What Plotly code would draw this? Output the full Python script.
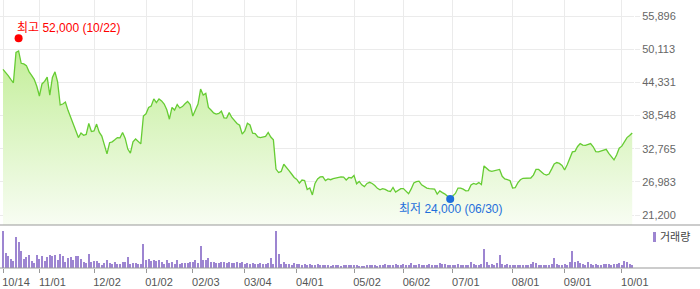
import pandas as pd
import plotly.graph_objects as go

# ---------------- data ----------------
HOLIDAYS = ['2024-12-25', '2024-12-31', '2025-01-01', '2025-01-27', '2025-01-28',
            '2025-01-29', '2025-01-30', '2025-03-03', '2025-05-01', '2025-05-05',
            '2025-05-06', '2025-06-03', '2025-06-06', '2025-08-15', '2025-10-03',
            '2025-10-06', '2025-10-07', '2025-10-08', '2025-10-09']
dates = [d.strftime('%Y-%m-%d') for d in pd.bdate_range('2024-10-14', '2025-10-14')
         if d.strftime('%Y-%m-%d') not in HOLIDAYS]

close = [
    46600, 46100, 45500, 44850, 44250, 49550, 49800, 47650, 47550, 47250,
    46200, 45550, 44850, 43650, 41950, 44050, 44500, 45250, 42100, 45200,
    46150, 44400, 40400, 40550, 40900, 39450, 38200, 37050, 35800, 34700,
    35500, 35100, 35250, 37150, 35750, 35850, 37050, 35650, 34950, 33600,
    31850, 33800, 33950, 34300, 34700, 34650, 35600, 34550, 32700, 32000,
    33950, 34450, 34000, 33600, 38450, 38850, 39950, 40200, 41450, 40800,
    41450, 41100, 40550, 39550, 37900, 39950, 39500, 40450, 39850, 40100,
    40600, 41000, 40450, 38450, 39500, 40550, 43150, 42100, 42400, 39950,
    39500, 39000, 38800, 38900, 39300, 38150, 38100, 39050, 38200, 37600,
    37150, 36850, 35300, 35850, 37200, 36900, 35450, 35400, 34800, 34700,
    34750, 34900, 35600, 34800, 34300, 29200, 28600, 28800, 30050, 29400,
    28950, 28350, 27750, 27400, 26750, 27300, 27200, 25650, 25900, 24700,
    26700, 27500, 27850, 27900, 27200, 27500, 27350, 27550, 27650, 27800,
    27850, 27800, 27300, 27750, 27650, 28100, 26650, 27050, 26450, 26150,
    26700, 26900, 26700, 26350, 25850, 25600, 25800, 25650, 25400, 25300,
    26000, 25200, 25550, 25800, 25800, 25300, 24900, 25750, 26800, 27000,
    27100, 26450, 26100, 25900, 25800, 25700, 25700, 24850, 25400, 25100,
    24850, 24450, 24150, 24500, 24950, 25900, 25900, 25700, 25400, 25450,
    26450, 26700, 26550, 26850, 26500, 29750, 29400, 28950, 28800, 28950,
    29100, 29150, 27950, 27500, 27350, 27200, 25900, 25950, 26800, 27350,
    27600, 27650, 27700, 27650, 28150, 29150, 29150, 28750, 28350, 28150,
    28350, 29200, 30100, 30350, 30200, 29850, 29050, 29950, 31100, 32200,
    32300, 33150, 33650, 33400, 33350, 33550, 33650, 33100, 32250, 32200,
    32350, 32600, 32650, 31950, 31400, 30800, 31650, 32850, 33200, 33850,
    34700, 35050, 35500,
]

volume = [  # thousand shares
    1480, 600, 480, 360, 280, 1240, 1040, 680, 360, 440,
    520, 280, 200, 520, 360, 480, 280, 440, 520, 480,
    520, 320, 560, 480, 240, 400, 440, 320, 480, 480,
    360, 240, 200, 560, 240, 280, 280, 200, 120, 200,
    320, 200, 160, 240, 160, 160, 240, 240, 440, 160,
    200, 200, 160, 160, 960,
    320, 360, 280, 320, 280, 320, 240, 160, 320, 200,
    240, 160, 320, 160, 200, 200, 200, 240, 240, 320,
    200, 880, 320, 320, 400, 240, 240, 200, 200, 240,
    240, 200, 240, 200, 200, 240,
    200, 240, 160, 200, 160, 200, 160, 160, 200, 160, 160, 200, 400, 160,
    1480, 560, 160, 240, 160, 160, 120, 200, 160,
    160, 120, 160, 120, 160, 120, 120, 160, 120, 120,
    120, 120, 80, 120, 120, 120, 80, 120, 120, 120,
    120, 120, 120, 80, 80, 80, 120, 120, 120, 120,
    80, 120, 120, 160, 120, 120, 120, 160, 120, 120,
    160, 120, 120, 200, 120, 120, 160, 120, 120, 120,
    160, 120, 120, 120, 200, 160, 160, 120, 120,
    120, 120, 160, 120, 120, 120, 120, 240, 160, 120,
    120, 160, 760, 240, 120, 160, 120, 200, 520, 160,
    120, 160, 120, 120, 120, 120, 120, 120, 120, 120,
    160, 240, 200, 120, 120, 120, 120, 120, 160, 400,
    160, 120, 120, 160, 120, 240, 680, 240, 280, 200,
    160, 120, 240, 160, 120, 160, 120, 120, 160, 160,
    160, 120, 160, 160, 200, 120, 280, 240, 160, 120,
]

assert len(dates) == len(close) == len(volume), (len(dates), len(close), len(volume))

month_ticks = ['2024-10-14', '2024-11-01', '2024-12-02', '2025-01-02', '2025-02-03',
               '2025-03-04', '2025-04-01', '2025-05-02', '2025-06-02', '2025-07-01',
               '2025-08-01', '2025-09-01', '2025-10-01']
month_labels = ['10/14', '11/01', '12/02', '01/02', '02/03', '03/04', '04/01',
                '05/02', '06/02', '07/01', '08/01', '09/01', '10/01']

price_ticks = [21200, 26983, 32765, 38548, 44331, 50113, 55896]
price_labels = ['21,200', '26,983', '32,765', '38,548', '44,331', '50,113', '55,896']

high_date, high_value, high_text = ['2024-10-22'], [52000], '최고 52,000 (10/22)'
low_date, low_value, low_text = ['2025-06-30'], [24000], '최저 24,000 (06/30)'

# ---------------- figure ----------------
FONT = 'Liberation Sans, Arial, Noto Sans CJK KR'
Y_MIN, Y_MAX = 19456, 58686

fig = go.Figure()

fig.add_trace(go.Scatter(
    x=dates, y=close, mode='lines',
    line=dict(color='#66cc33', width=1.3),
    fill='tozeroy',
    fillgradient=dict(type='vertical', start=Y_MIN, stop=50000,
                      colorscale=[[0, '#f8fdf3'], [1, '#c3ee99']]),
    xaxis='x', yaxis='y', hoverinfo='skip'))

fig.add_trace(go.Scatter(x=high_date, y=high_value, mode='markers',
                         marker=dict(color='#ff0000', size=8),
                         xaxis='x', yaxis='y', hoverinfo='skip'))
fig.add_trace(go.Scatter(x=low_date, y=low_value, mode='markers',
                         marker=dict(color='#1f6fdb', size=8),
                         xaxis='x', yaxis='y', hoverinfo='skip'))

fig.add_trace(go.Bar(x=dates, y=volume, width=0.4,
                     marker=dict(color='#9d85d1', line=dict(width=0)),
                     xaxis='x2', yaxis='y2', hoverinfo='skip'))

PLOT_W, PLOT_H = 634, 268
price_bottom = (PLOT_H - 225) / PLOT_H
vol_top = (PLOT_H - 228) / PLOT_H
x_start = -3 / 2.6
x_end = (PLOT_W - 3) / 2.6

fig.update_layout(
    width=700, height=289,
    margin=dict(l=0, r=700 - PLOT_W, t=0, b=21),
    plot_bgcolor='white', paper_bgcolor='white',
    showlegend=False,
    font=dict(family=FONT, size=11, color='#666666'),
    xaxis=dict(type='category', domain=[0, 1], anchor='y', range=[x_start, x_end],
               tickvals=month_ticks, showticklabels=False, ticks='',
               showgrid=True, gridcolor='#ebebeb', gridwidth=1,
               showline=False, zeroline=False, fixedrange=True),
    xaxis2=dict(type='category', domain=[0, 1], anchor='y2', matches='x',
                range=[x_start, x_end],
                tickvals=month_ticks, ticktext=month_labels,
                ticks='outside', ticklen=4, tickcolor='#999999', tickwidth=1,
                ticklabelshift=13, ticklabelstandoff=0,
                tickfont=dict(family=FONT, size=11, color='#555555'),
                showgrid=False, showline=False, zeroline=False),
    yaxis=dict(domain=[price_bottom, 1], anchor='x', range=[Y_MIN, Y_MAX],
               side='right', tickvals=price_ticks, ticktext=price_labels,
               ticks='outside', ticklen=5, tickcolor='#ebebeb',
               tickfont=dict(family=FONT, size=11, color='#666666'),
               showgrid=True, gridcolor='#ebebeb', gridwidth=1,
               zeroline=False, showline=False),
    yaxis2=dict(domain=[0, vol_top], anchor='x2', range=[0, 1600],
                showticklabels=False, showgrid=False, zeroline=False, showline=False),
    shapes=[
        dict(type='line', xref='paper', yref='paper', x0=0, x1=700 / PLOT_W,
             y0=price_bottom, y1=price_bottom, line=dict(color='#999999', width=1)),
        dict(type='line', xref='paper', yref='paper', x0=0, x1=700 / PLOT_W,
             y0=0, y1=0, line=dict(color='#999999', width=1)),
        dict(type='rect', xref='paper', yref='paper',
             x0=653 / PLOT_W, x1=656 / PLOT_W,
             y0=(PLOT_H - 242) / PLOT_H, y1=(PLOT_H - 232) / PLOT_H,
             fillcolor='#9d85d1', line=dict(width=0)),
    ],
    annotations=[
        dict(x=high_date[0], y=high_value[0], xref='x', yref='y', text=high_text,
             showarrow=False, xanchor='left', yanchor='middle', xshift=-4, yshift=10,
             font=dict(family=FONT, size=12, color='#ff0000')),
        dict(x=low_date[0], y=low_value[0], xref='x', yref='y', text=low_text,
             showarrow=False, xanchor='center', yanchor='middle', yshift=-10,
             font=dict(family=FONT, size=12, color='#1f6fdb')),
        dict(x=658 / PLOT_W, y=(PLOT_H - 237) / PLOT_H, xref='paper', yref='paper',
             text='거래량', showarrow=False, xanchor='left', yanchor='middle',
             font=dict(family=FONT, size=11, color='#444444')),
    ],
)

fig.write_html('out.html')
